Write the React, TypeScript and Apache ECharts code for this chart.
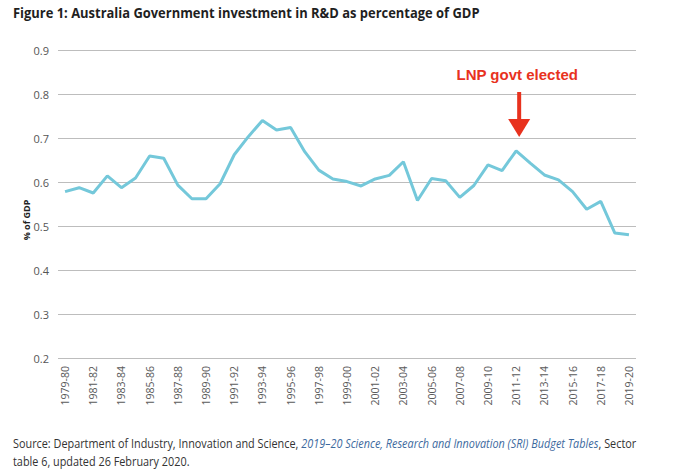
import React, { useEffect, useRef } from "react";
import * as echarts from "echarts";

const categories = [
  "1979-80","1980-81","1981-82","1982-83","1983-84","1984-85","1985-86","1986-87","1987-88","1988-89",
  "1989-90","1990-91","1991-92","1992-93","1993-94","1994-95","1995-96","1996-97","1997-98","1998-99",
  "1999-00","2000-01","2001-02","2002-03","2003-04","2004-05","2005-06","2006-07","2007-08","2008-09",
  "2009-10","2010-11","2011-12","2012-13","2013-14","2014-15","2015-16","2016-17","2017-18","2018-19",
  "2019-20",
];

const investment = [
  0.578, 0.587, 0.575, 0.614, 0.587, 0.609, 0.659, 0.654, 0.593, 0.562,
  0.562, 0.596, 0.662, 0.703, 0.740, 0.718, 0.724, 0.669, 0.627, 0.607,
  0.601, 0.591, 0.607, 0.615, 0.646, 0.558, 0.608, 0.603, 0.565, 0.592,
  0.639, 0.626, 0.671, 0.643, 0.616, 0.605, 0.578, 0.538, 0.556, 0.484,
  0.480,
];

const yTicks = { min: 0.2, max: 0.9, interval: 0.1 };
const annotationCategory = "2011-12";
const annotationText = "LNP govt elected";
const titleText = "Figure 1: Australia Government investment in R&D as percentage of GDP";
const sourceLine1a = "Source: Department of Industry, Innovation and Science, ";
const sourceLink = "2019–20 Science, Research and Innovation (SRI) Budget Tables";
const sourceLine1b = ", Sector";
const sourceLine2 = "table 6, updated 26 February 2020.";

export default function App() {
  const ref = useRef<HTMLDivElement>(null);
  useEffect(() => {
    document.body.style.margin = "0";
    const chart = echarts.init(ref.current!, undefined, { renderer: "svg" });
    const option: any = {
      animation: false,
      backgroundColor: "#ffffff",
      grid: { left: 58, right: 44, top: 50, bottom: 118, containLabel: false },
      xAxis: {
        type: "category",
        data: categories,
        boundaryGap: true,
        axisLine: { show: false },
        axisTick: { show: false },
        axisLabel: {
          rotate: 90,
          interval: 1,
          margin: 8,
          color: "#5a5a5a",
          fontFamily: "Open Sans",
          fontSize: 10.5,
        },
      },
      yAxis: {
        type: "value",
        min: yTicks.min,
        max: yTicks.max,
        interval: yTicks.interval,
        axisLine: { show: false },
        axisTick: { show: false },
        axisLabel: {
          margin: 9,
          color: "#555555",
          fontFamily: "Open Sans",
          fontSize: 11,
          formatter: (v: number) => v.toFixed(1),
        },
        splitLine: { lineStyle: { color: "#bdbdbd", width: 1.2 } },
      },
      series: [
        {
          type: "line",
          data: investment,
          symbol: "none",
          lineStyle: { color: "#74c8da", width: 3 },
          z: 3,
        },
      ],
    };
    chart.setOption(option);

    const tip = chart.convertToPixel({ xAxisIndex: 0, yAxisIndex: 0 }, [annotationCategory, 0.7]);
    const ax = tip[0] + 3;
    const tipY = tip[1];

    chart.setOption({
      graphic: [
        {
          type: "text",
          x: 13,
          y: 6,
          style: {
            text: titleText,
            font: 'bold 14px "Open Sans"',
            fill: "#1f1f1f",
          },
          scaleX: 0.925,
        },
        {
          type: "text",
          x: 26,
          y: 220,
          rotation: Math.PI / 2,
          style: {
            text: "% of GDP",
            font: 'bold 9px "Open Sans"',
            fill: "#222222",
            align: "center",
            verticalAlign: "middle",
          },
        },
        {
          type: "text",
          x: ax - 2,
          y: 74,
          style: {
            text: annotationText,
            font: 'bold 15px "Liberation Sans"',
            fill: "#e8321e",
            align: "center",
            verticalAlign: "middle",
          },
        },
        {
          type: "rect",
          shape: { x: ax - 2, y: 92, width: 4, height: tipY - 92 - 16 },
          style: { fill: "#e8321e" },
        },
        {
          type: "polygon",
          shape: {
            points: [
              [ax - 11, tipY - 19],
              [ax + 11, tipY - 19],
              [ax, tipY - 1],
            ],
          },
          style: { fill: "#e8321e" },
        },
        {
          type: "text",
          x: 13,
          y: 434,
          scaleX: 0.905,
          style: {
            text:
              "{n|" + sourceLine1a + "}{l|" + sourceLink + "}{n|" + sourceLine1b + "}\n{n|" + sourceLine2 + "}",
            rich: {
              n: { font: '12px "Open Sans"', fill: "#333333", lineHeight: 18 },
              l: { font: 'italic 12px "Open Sans"', fill: "#3d6a9e", lineHeight: 18 },
            },
          },
        },
      ],
    });
    return () => chart.dispose();
  }, []);
  return <div ref={ref} style={{ width: 680, height: 476 }} />;
}
